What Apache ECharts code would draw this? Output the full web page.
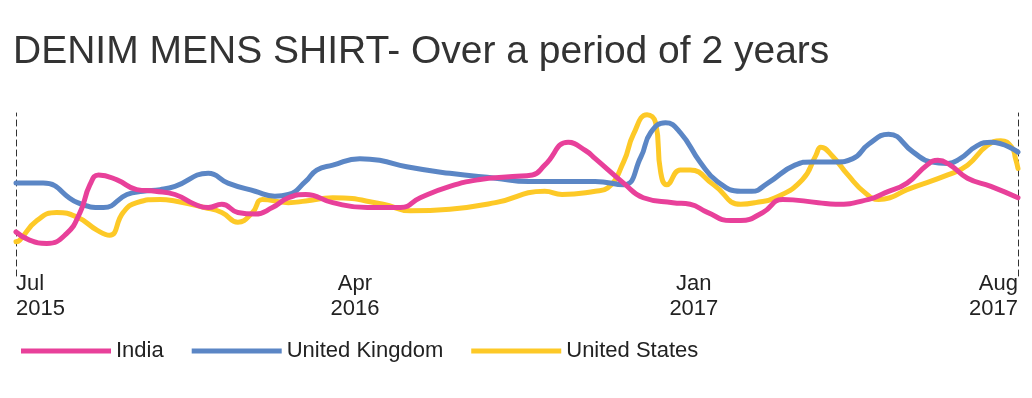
<!DOCTYPE html>
<html>
<head>
<meta charset="utf-8">
<script src="https://cdn.jsdelivr.net/npm/echarts@6/dist/echarts.min.js"></script>
<style>
  html, body { margin: 0; padding: 0; background: #fff; }
  #chart { width: 1032px; height: 398px; }
</style>
</head>
<body>
<div id="chart"></div>
<script>
// x = days since 1 Jul 2015, y = relative interest (0-100)
var tickDays = [0, 275, 550, 813];
var tickLabels = ['Jul\n2015', 'Apr\n2016', 'Jan\n2017', 'Aug\n2017'];

var indiaDays = [0, 11, 25, 41, 52, 60, 67, 82, 98, 113, 129, 145, 156, 167, 180, 194, 208, 221, 235, 257, 285, 312, 328, 352, 375, 403, 419, 429, 448, 462, 470, 493, 509, 533, 547, 561, 580, 588, 606, 622, 651, 665, 692, 705, 723, 739, 748, 758, 772, 791, 813];
var indiaVals = [27, 22, 20, 26, 39, 56, 62, 59, 53, 52, 50, 44, 42, 44, 39, 38, 42, 48, 50, 45, 42, 42, 48, 55, 59, 61, 62, 68, 82, 77, 72, 57, 48, 45, 44, 39, 34, 34, 39, 47, 45, 44, 47, 51, 57, 68, 71, 68, 60, 55, 48];

var ukDays = [0, 22, 50, 71, 90, 103, 117, 129, 156, 172, 194, 210, 221, 235, 244, 257, 279, 295, 317, 352, 389, 416, 470, 493, 507, 515, 527, 539, 555, 569, 588, 597, 610, 632, 646, 665, 679, 692, 708, 728, 742, 756, 766, 780, 791, 813];
var ukVals = [57, 57, 45, 42, 50, 52, 53, 55, 63, 57, 52, 49, 50, 58, 65, 68, 72, 71, 67, 63, 60, 58, 58, 56, 73, 88, 94, 88, 70, 58, 52, 52, 57, 68, 70, 70, 72, 81, 87, 76, 70, 69, 72, 80, 82, 76];

var usDays = [0, 3, 17, 33, 50, 66, 76, 87, 98, 117, 129, 153, 167, 180, 192, 200, 221, 235, 257, 298, 320, 352, 389, 429, 443, 470, 480, 493, 501, 512, 519, 523, 528, 539, 547, 566, 588, 600, 616, 638, 649, 653, 662, 675, 689, 700, 709, 723, 756, 772, 788, 799, 808, 811, 813];
var usVals = [21, 22, 34, 39, 36, 28, 25, 39, 45, 47, 46, 42, 39, 33, 39, 47, 45, 46, 48, 44, 40, 41, 45, 52, 50, 52, 54, 70, 87, 99, 94, 64, 56, 65, 65, 56, 44, 45, 48, 59, 74, 79, 74, 62, 51, 47, 48, 53, 62, 68, 80, 83, 79, 72, 66];

function pairs(xs, ys) {
    return xs.map(function (x, i) { return [x, ys[i]]; });
}

var myChart = echarts.init(document.getElementById('chart'));

var font = 'Liberation Sans, Arial, sans-serif';

function lineSeries(name, xs, ys, color, z) {
    return {
        name: name,
        type: 'line',
        data: pairs(xs, ys),
        smooth: true,
        showSymbol: false,
        symbol: 'none',
        z: z,
        lineStyle: { width: 5, color: color, cap: 'round', join: 'round' },
        itemStyle: { color: color }
    };
}

var dashedLine = { show: true, lineStyle: { color: '#333', type: [6, 4], width: 1 } };

var option = {
    animation: false,
    backgroundColor: '#fff',
    title: {
        text: 'DENIM MENS SHIRT- Over a period of 2 years',
        left: 8,
        top: 28,
        textStyle: { fontFamily: font, fontSize: 39, fontWeight: 'normal', color: '#333' }
    },
    legend: {
        left: 16,
        top: 335,
        icon: 'rect',
        itemWidth: 90,
        itemHeight: 5,
        itemGap: 28,
        textStyle: { fontFamily: font, fontSize: 22, color: '#222' },
        data: ['India', 'United Kingdom', 'United States']
    },
    grid: { left: 16, right: 14, top: 113, bottom: 122 },
    xAxis: {
        type: 'value',
        min: 0,
        max: 813,
        axisLine: { show: false },
        axisTick: { show: false },
        splitLine: { show: false },
        axisLabel: {
            customValues: tickDays,
            alignMinLabel: 'left',
            alignMaxLabel: 'right',
            margin: -5,
            fontFamily: font,
            fontSize: 22,
            lineHeight: 25,
            color: '#222',
            formatter: function (v) {
                var i = tickDays.indexOf(v);
                return i >= 0 ? tickLabels[i] : '';
            }
        }
    },
    yAxis: [
        { type: 'value', min: 0, max: 100, position: 'left', axisLine: dashedLine,
          axisTick: { show: false }, axisLabel: { show: false }, splitLine: { show: false } },
        { type: 'value', min: 0, max: 100, position: 'right', axisLine: dashedLine,
          axisTick: { show: false }, axisLabel: { show: false }, splitLine: { show: false } }
    ],
    series: [
        lineSeries('India', indiaDays, indiaVals, '#e8409a', 4),
        lineSeries('United Kingdom', ukDays, ukVals, '#5b86c5', 3),
        lineSeries('United States', usDays, usVals, '#fdc927', 2)
    ]
};

myChart.setOption(option);
</script>
</body>
</html>
